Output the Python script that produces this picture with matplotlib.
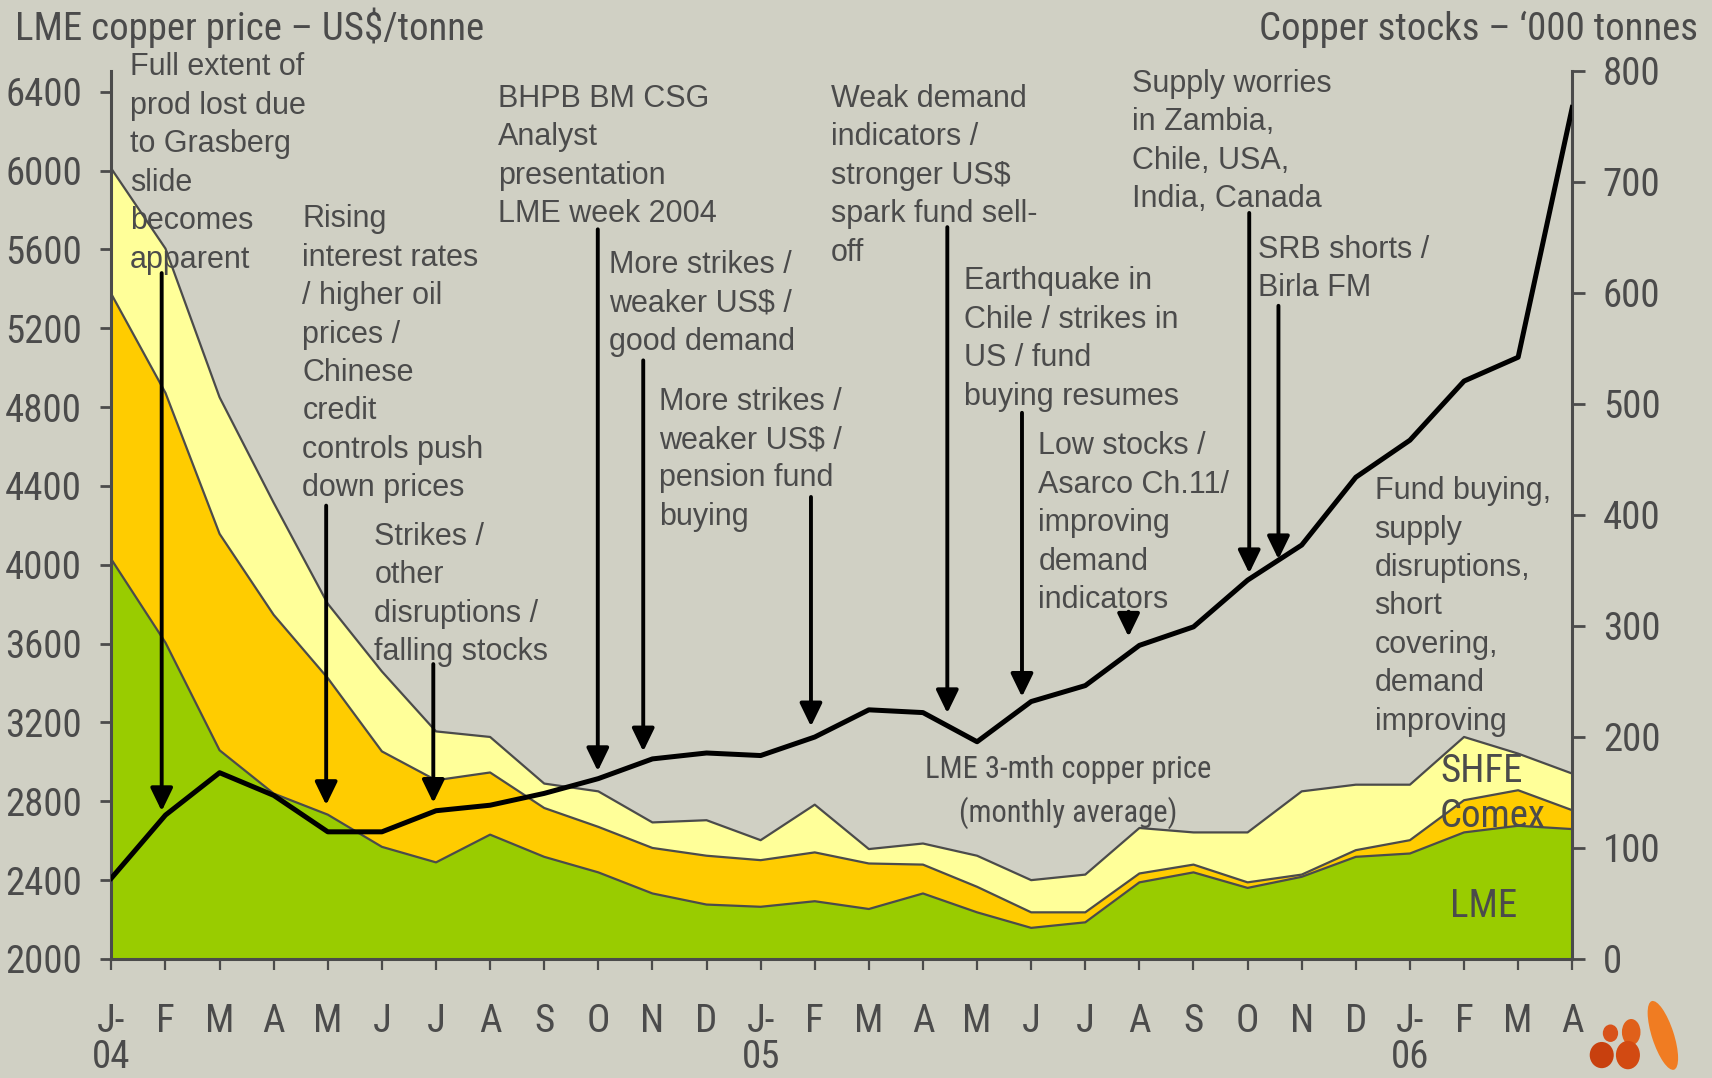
import matplotlib
matplotlib.use("Agg")
import matplotlib.pyplot as plt
import numpy as np
from matplotlib import font_manager
from matplotlib.patches import Ellipse
from matplotlib.transforms import blended_transform_factory

# layout grid of the reference picture (everything is placed in these px)
REF_W, REF_H = 1568, 987

MONTHS = ["J-", "F", "M", "A", "M", "J", "J", "A", "S", "O", "N", "D",
          "J-", "F", "M", "A", "M", "J", "J", "A", "S", "O", "N", "D",
          "J-", "F", "M", "A"]
YEARS = ["04", "05", "06"]
YEAR_AT = [0, 12, 24]

# LME 3-mth copper price, US$/t (monthly average)
LME_PRICE = [2410, 2730, 2945, 2830, 2645, 2645, 2752, 2780, 2840, 2915,
             3015, 3045, 3032, 3126, 3264, 3250, 3102, 3306, 3387, 3591,
             3685, 3922, 4100, 4444, 4632, 4932, 5053, 6320]

# copper stocks, '000 t
LME_STOCK = [360, 285, 188, 149, 130, 101, 87, 112, 92, 78, 59, 49, 47, 52,
             45, 59, 42, 28, 33, 69, 78, 64, 74, 92, 95, 114, 120, 117]
COMEX_STOCK = [239, 225, 195, 161, 123, 86, 74, 56, 44, 41, 41, 44, 42, 44,
               41, 26, 23, 14, 9, 8, 7, 5, 2, 6, 12, 29, 32, 17]
SHFE_STOCK = [113, 130, 123, 101, 67, 72, 44, 32, 22, 32, 23, 32, 18, 43,
              13, 19, 28, 29, 34, 41, 29, 45, 75, 59, 50, 57, 33, 33]

PRICE_TICKS = list(range(2000, 6401, 400))
STOCK_TICKS = list(range(0, 801, 100))

# (left x, first baseline y) in reference px, then the lines
NOTES = [
    (119, 69, ["Full extent of", "prod lost due", "to Grasberg", "slide",
               "becomes", "apparent"]),
    (277, 208, ["Rising", "interest rates", "/ higher oil", "prices /",
                "Chinese", "credit", "controls push", "down prices"]),
    (343, 499, ["Strikes /", "other", "disruptions /", "falling stocks"]),
    (456, 98, ["BHPB BM CSG", "Analyst", "presentation", "LME week 2004"]),
    (558, 250, ["More strikes /", "weaker US$ /", "good demand"]),
    (604, 375, ["More strikes /", "weaker US$ /", "pension fund", "buying"]),
    (761, 98, ["Weak demand", "indicators /", "stronger US$",
               "spark fund sell-", "off"]),
    (883, 265, ["Earthquake in", "Chile / strikes in", "US / fund",
                "buying resumes"]),
    (951, 416, ["Low stocks /", "Asarco Ch.11/", "improving", "demand",
                "indicators"]),
    (1037, 84, ["Supply worries", "in Zambia,", "Chile, USA,",
                "India, Canada"]),
    (1152, 236, ["SRB shorts /", "Birla FM"]),
    (1259, 457, ["Fund buying,", "supply", "disruptions,", "short",
                 "covering,", "demand", "improving"]),
]
LINE_STEP = 35.2

# arrows: (month position, price at tail, price at tip)
ARROWS = [
    (0.93, 5480, 2750), (3.97, 4300, 2781), (5.95, 3496, 2792),
    (8.99, 5702, 2953), (9.83, 5037, 3053), (12.93, 4344, 3180),
    (15.45, 5713, 3247), (16.83, 4771, 3330), (18.8, 3762, 3635),
    (21.03, 5785, 3957), (21.57, 5314, 4028),
]

BG = "#D0D0C4"
TXT = "#4B4B4B"
GREEN = "#99CC00"
ORANGE = "#FFCC00"
YELLOW = "#FFFF99"


def pick_font(names, fallback):
    installed = {f.name for f in font_manager.fontManager.ttflist}
    for name in names:
        if name in installed:
            return name
    return fallback


NARROW = pick_font(["Liberation Sans Narrow", "Roboto Condensed",
                    "DejaVu Sans Condensed", "Open Sans Condensed"],
                   "Liberation Sans")
PLAIN = pick_font(["Liberation Sans", "Arial"], "DejaVu Sans")


def fx(x):
    return x / REF_W


def fy(y):
    return 1 - y / REF_H


def main() -> None:
    plt.rcParams["font.family"] = [NARROW, "DejaVu Sans"]

    fig = plt.figure(figsize=(17.12, 10.78), dpi=100, facecolor=BG)
    rect = [fx(102), fy(878), fx(1440) - fx(102), fy(65) - fy(878)]

    ax_s = fig.add_axes(rect, facecolor=BG)
    ax_p = ax_s.twinx()

    x = np.arange(len(MONTHS))

    # stocks, stacked, right scale
    ax_s.stackplot(x, LME_STOCK, COMEX_STOCK, SHFE_STOCK,
                   colors=[GREEN, ORANGE, YELLOW], lw=0)
    for top in np.cumsum([LME_STOCK, COMEX_STOCK, SHFE_STOCK], axis=0):
        ax_s.plot(x, top, color=TXT, lw=1.6)
    ax_s.set_xlim(0, len(MONTHS) - 1)
    ax_s.set_ylim(0, 800)
    ax_s.yaxis.tick_right()
    ax_s.set_yticks(STOCK_TICKS)
    ax_s.set_xticks(x)
    ax_s.set_xticklabels(MONTHS)
    ax_s.tick_params(axis="y", direction="out", length=9, width=2,
                     pad=13, colors=TXT, labelsize=28)
    ax_s.tick_params(axis="x", direction="out", length=8, width=1.6,
                     pad=24, colors=TXT, labelsize=28)
    for side in ("left", "right", "bottom"):
        ax_s.spines[side].set_color(TXT)
        ax_s.spines[side].set_linewidth(2.2)
    ax_s.spines["top"].set_visible(False)

    # price, left scale
    ax_p.plot(x, LME_PRICE, color="black", lw=3.6)
    ax_p.set_ylim(2000, 2000 + 813 / 0.180455)
    ax_p.yaxis.tick_left()
    ax_p.set_yticks(PRICE_TICKS)
    ax_p.tick_params(axis="y", direction="out", length=8, width=2,
                     pad=13, colors=TXT, labelsize=28)
    for side in ax_p.spines:
        ax_p.spines[side].set_visible(False)

    for mx, tail, tip in ARROWS:
        ax_p.annotate("", xy=(mx, tip), xytext=(mx, tail),
                      arrowprops=dict(arrowstyle="-|>,head_length=0.7,head_width=0.34",
                                      color="black", lw=2.8, shrinkA=0,
                                      shrinkB=0, mutation_scale=20))

    for left, base, lines in NOTES:
        for i, line in enumerate(lines):
            fig.text(fx(left), fy(base + i * LINE_STEP), line, fontsize=22,
                     family=PLAIN, color=TXT, ha="left", va="baseline")

    # year labels below the month ticks
    yr = blended_transform_factory(ax_s.transData, fig.transFigure)
    for pos, year in zip(YEAR_AT, YEARS):
        ax_s.text(pos, fy(978), year, transform=yr, fontsize=28, color=TXT,
                  ha="center", va="baseline", clip_on=False)

    fig.text(fx(14), fy(37), "LME copper price \u2013 US$/tonne",
             fontsize=28, color=TXT, ha="left", va="baseline")
    fig.text(fx(1555), fy(37), "Copper stocks \u2013 \u2018000 tonnes",
             fontsize=28, color=TXT, ha="right", va="baseline")

    fig.text(fx(978), fy(712), "LME 3-mth copper price", fontsize=22,
             color=TXT, ha="center", va="baseline")
    fig.text(fx(978), fy(752), "(monthly average)", fontsize=22,
             color=TXT, ha="center", va="baseline")

    fig.text(fx(1357), fy(716), "SHFE", fontsize=28, color=TXT,
             ha="center", va="baseline")
    fig.text(fx(1367), fy(757), "Comex", fontsize=28, color=TXT,
             ha="center", va="baseline")
    fig.text(fx(1359), fy(840), "LME", fontsize=28, color=TXT,
             ha="center", va="baseline")

    # rough company logo, bottom right
    lg = fig.add_axes([fx(1455), fy(982), fx(1548) - fx(1455),
                       fy(914) - fy(982)])
    lg.set_xlim(1455, 1548)
    lg.set_ylim(982, 914)
    lg.axis("off")
    for (cx, cy, w, h, ang, col) in [
            (1475, 946, 14, 16, 0, "#D8521A"),
            (1467, 966, 22, 24, 0, "#C8400E"),
            (1494, 945, 17, 24, 0, "#E0601A"),
            (1491, 966, 22, 26, 0, "#D24A12"),
            (1523, 948, 20, 66, -18, "#F07C22")]:
        lg.add_patch(Ellipse((cx, cy), w, h, angle=ang, color=col, lw=0))

    fig.savefig("out.png", dpi=100, facecolor=BG)


if __name__ == "__main__":
    main()
